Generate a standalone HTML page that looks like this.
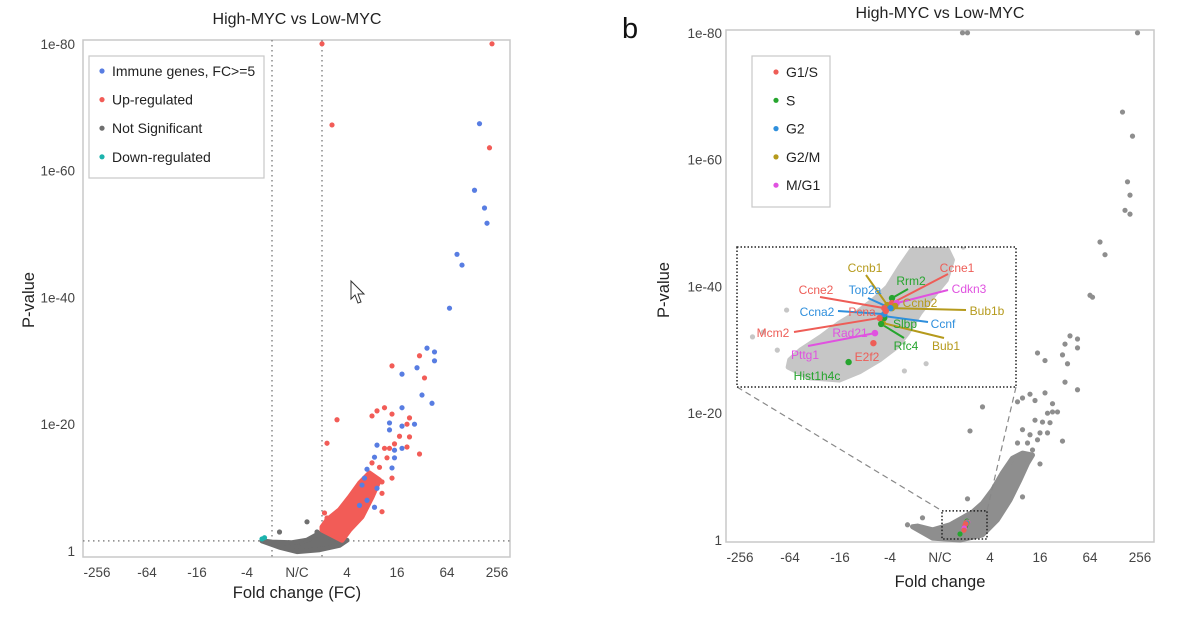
<!DOCTYPE html>
<html><head><meta charset="utf-8"><style>
html,body{margin:0;padding:0;background:#fff;}
svg{display:block;font-family:"Liberation Sans",Arial,sans-serif;}
</style></head><body>
<svg id="fig" width="1200" height="619" viewBox="0 0 1200 619" xmlns="http://www.w3.org/2000/svg"></svg>
<script>
// ---- data (x = log2 fold change, y = -log10 p) ----
const xTickLabels = ["-256","-64","-16","-4","N/C","4","16","64","256"];
const yTickLabels = ["1","1e-20","1e-40","1e-60","1e-80"];
const yTickValues = [0,20,40,60,80];
const leftRed = [[1.0,80],[7.8,80],[1.4,67.2],[7.7,63.6],[4.9,30.8],[3.8,29.2],[5.1,27.3],[3.5,22.6],[3.2,22.1],[3.0,21.3],[3.8,21.6],[1.6,20.7],[4.5,21.0],[4.4,20.0],[4.1,18.1],[4.5,18.0],[1.2,17.0],[3.9,16.9],[4.4,16.4],[3.5,16.2],[3.7,16.2],[4.9,15.3],[3.6,14.7],[3.0,13.9],[3.3,13.2],[3.8,11.5],[3.4,10.9],[3.4,9.1],[3.4,6.2],[1.1,6.0],[1.2,5.2]];
const leftBlue = [[7.3,67.4],[7.1,56.9],[7.5,54.1],[7.6,51.7],[6.4,46.8],[6.6,45.1],[6.1,38.3],[5.2,32.0],[5.5,31.4],[4.8,28.9],[5.5,30.0],[4.2,27.9],[5.0,24.6],[5.4,23.3],[4.2,22.6],[3.7,20.2],[4.7,20.0],[4.2,19.7],[3.7,19.1],[3.2,16.7],[3.9,15.9],[4.2,16.2],[3.1,14.8],[3.9,14.7],[3.8,13.1],[2.8,12.9],[2.7,11.5],[2.6,10.4],[3.2,9.9],[3.1,6.9],[2.8,8.0],[2.5,7.2]];
const leftGrey = [[0.4,4.6],[-0.7,3.0],[0.8,3.0],[-0.2,1.2],[0.2,1.2]];
const leftTeal = [[-1.3,2.1],[-1.4,1.9]];
const leftRedCloud = [[1.0,3.3],[1.8,1.7],[2.1,3.3],[2.6,5.4],[3.0,8.5],[3.3,11.2],[2.9,12.3],[2.5,10.7],[2.1,8.5],[1.7,6.5],[1.2,4.9],[1.0,3.8]];
const leftGreyCloud = [[-1.4,1.6],[-0.7,0.6],[0,-0.1],[0.9,0.2],[1.7,0.9],[2.0,1.7],[1.4,2.0],[0.9,2.8],[0.4,1.7],[-0.2,1.3],[-1.0,1.4]];
const rightGrey = [[0.9,80],[1.1,80],[7.9,80],[7.3,67.5],[7.7,63.7],[7.5,56.5],[7.6,54.4],[7.4,52],[7.6,51.4],[6.4,47],[6.6,45],[6.1,38.3],[6.0,38.6],[5.2,32.2],[5.5,31.7],[5.0,30.9],[3.9,29.5],[4.9,29.2],[5.5,30.3],[4.2,28.3],[5.1,27.8],[5.0,24.9],[5.5,23.7],[3.6,23.0],[4.2,23.2],[3.3,22.4],[3.1,21.8],[3.8,22.0],[1.7,21.0],[4.5,21.5],[4.3,20.0],[4.5,20.2],[4.7,20.2],[4.1,18.6],[4.4,18.5],[4.9,15.6],[1.2,17.2],[3.8,18.9],[3.3,17.4],[3.6,16.6],[3.9,15.8],[4.0,16.9],[3.1,15.3],[3.5,15.3],[3.7,14.2],[4.3,16.9],[3.4,13.1],[4.0,12.0],[3.3,6.8],[1.1,6.5],[-0.7,3.5],[-1.3,2.4]];
const rightCloud = [[-1.1,2.1],[-0.3,0.3],[0.8,0],[1.7,0.8],[2.3,3.2],[2.8,6.3],[3.2,9.5],[3.5,12.1],[3.7,13.4],[3.3,13.7],[2.9,12.9],[2.5,10.6],[2.1,7.9],[1.7,5.8],[1.3,4.4],[0.9,3.5],[0.4,2.4],[-0.3,1.6],[-0.9,2.2]];
const insetCloud = [[0.41,0.79],[0.55,0.45],[0.74,0.38],[0.87,0.64],[1.00,1.02],[1.11,1.43],[1.18,1.87],[1.26,2.51],[1.34,3.01],[1.43,3.55],[1.47,4.19],[1.43,4.6],[1.22,4.6],[1.13,3.96],[1.05,3.33],[0.96,2.92],[0.85,2.51],[0.74,2.19],[0.62,1.75],[0.49,1.33],[0.42,1.02]];
const insetExtra = [[0.40,2.60],[0.18,1.75],[0.34,1.33],[1.16,0.67],[1.54,4.6],[0.25,1.9],[1.30,0.9]];
const phases = ["G1/S","S","G2","G2/M","M/G1"];
const phaseColors = ["#ee5d57","#26a52e","#2f8fdc","#b59a1c","#e052e0"];
const geneNames = ["Rrm2","Ccnb1","Ccne1","Cdkn3","Bub1b","Ccnb2","Ccnf","Bub1","Rfc4","Slbp","Ccne2","Top2a","Ccna2","Pcna","Mcm2","Pttg1","Rad21","E2f2","Hist1h4c"];
const genePhase = [1,3,0,4,3,3,2,3,1,1,0,2,2,0,0,4,4,0,1];
const geneX = [1.08,1.05,1.08,1.11,1.08,1.10,1.03,1.02,1.01,1.03,1.03,1.07,1.03,1.04,1.00,0.97,0.97,0.96,0.80];
const geneY = [2.98,2.76,2.82,2.82,2.66,2.73,2.41,2.19,2.16,2.35,2.66,2.66,2.47,2.57,2.35,1.87,1.87,1.55,0.95];
// label layout (pixels): text x, text y, leader start x, y (null = no leader)
const geneLabelPos = [[911,285,908,289],[865,272,866,275],[957,272,948,274],[969,293,948,290],[987,315,966,310],[920,307,null,null],[943,328,928,322],[946,350,944,338],[906,350,904,338],[905,328,null,null],[816,294,820,297],[865,294,868,298],[817,316,838,311],[862,316,null,null],[773,337,794,332],[805,359,808,346],[850,337,null,null],[867,361,null,null],[817,380,null,null]];

const NS="http://www.w3.org/2000/svg";
const svg=document.getElementById('fig');
function mk(tag,attrs,parent){const e=document.createElementNS(NS,tag);for(const k in attrs)e.setAttribute(k,attrs[k]);(parent||svg).appendChild(e);return e;}
function txt(s,attrs,parent){const e=mk('text',attrs,parent);e.textContent=s;return e;}

function panel(p){
  const sx=l=>p.x0+25*l, sy=m=>p.y0-6.34*m;
  const g=mk('g',{});
  
  
  const fr=mk('rect',{x:p.fx,y:p.fy,width:p.fw,height:p.fh,fill:'none',stroke:'#c8c8c8','stroke-width':1.5},g);
  
  
  const t=txt('High-MYC vs Low-MYC',{x:p.x0,y:p.ty,'text-anchor':'middle','font-size':16,fill:'#222'},g);
  
  
  xTickLabels.forEach((s,i)=>{const e=txt(s,{x:sx((i-4)*2),y:p.xly,'text-anchor':'middle','font-size':13.5,fill:'#444'},g);
    
    });
  yTickLabels.forEach((s,i)=>{const e=txt(s,{x:p.ylx,y:sy(yTickValues[i])+5,'text-anchor':'end','font-size':13.5,fill:'#444'},g);
    
    });
  const xt=txt(p.xtitle,{x:p.x0,y:p.xty,'text-anchor':'middle','font-size':16.5,fill:'#222'},g);
  
  
  const yt=txt('P-value',{x:0,y:0,'text-anchor':'middle','font-size':16.5,fill:'#222',transform:`translate(${p.ytx},${p.yty}) rotate(-90)`},g);
  
  
  return {g,sx,sy};
}
function cloud(g,pts,sx,sy,col,name){
  const e=mk('polygon',{points:pts.map(d=>sx(d[0])+','+sy(d[1])).join(' '),fill:col,stroke:col,'stroke-width':5,'stroke-linejoin':'round'},g);
  
  
}
function dots(g,pts,sx,sy,col,name,r){
  pts.forEach(d=>{const c=mk('circle',{cx:sx(d[0]),cy:sy(d[1]),r:r||2.6,fill:col},g);
    
    });
}

// ---- left panel ----
const L=panel({name:'left-volcano-plot',x0:297,y0:551,fx:83,fy:40,fw:427,fh:517,ty:24,xly:577,ylx:75,xtitle:'Fold change (FC)',xty:598,ytx:34,yty:300});
[-1,1].forEach(v=>{const e=mk('line',{x1:L.sx(v),x2:L.sx(v),y1:40,y2:557,stroke:'#888','stroke-dasharray':'1.5,3.5','stroke-width':1.5},L.g);
  
  });
{const e=mk('line',{x1:83,x2:510,y1:L.sy(1.6),y2:L.sy(1.6),stroke:'#888','stroke-dasharray':'1.5,3.5','stroke-width':1.5},L.g);
  
  }
cloud(L.g,leftGreyCloud,L.sx,L.sy,'#6f6f6f','not-significant-cloud');
cloud(L.g,leftRedCloud,L.sx,L.sy,'#f25c57','up-regulated-cloud');
dots(L.g,leftGrey,L.sx,L.sy,'#6f6f6f','not-significant-point');
dots(L.g,leftTeal,L.sx,L.sy,'#1cb3ad','down-regulated-point');
dots(L.g,leftRed,L.sx,L.sy,'#f25c57','up-regulated-point');
dots(L.g,leftBlue,L.sx,L.sy,'#587de2','immune-gene-point');
{const lg=mk('g',{},L.g);
 
 
 mk('rect',{x:89,y:56,width:175,height:122,fill:'#fff',stroke:'#c8c8c8','stroke-width':1.2},lg);
 const items=[['Immune genes, FC>=5','#587de2'],['Up-regulated','#f25c57'],['Not Significant','#6f6f6f'],['Down-regulated','#1cb3ad']];
 items.forEach((it,i)=>{const y=71+i*28.6;
   const c=mk('circle',{cx:102,cy:y,r:2.6,fill:it[1]},lg);
   
   
   const t=txt(it[0],{x:112,y:y+5,'font-size':14,fill:'#222'},lg);
   
   });}
// cursor
{const e=mk('path',{d:'M351,281 L351,299 L355,295 L358,303 L361,302 L358,294 L364,294 Z',fill:'#fff',stroke:'#333','stroke-width':1},L.g);
 
 }

// ---- right panel ----
{const b=txt('b',{x:622,y:38,'font-size':29,fill:'#111'});
 
 }
const R=panel({name:'right-volcano-plot',x0:940,y0:540,fx:726,fy:30,fw:428,fh:512,ty:18,xly:562,ylx:722,xtitle:'Fold change',xty:587,ytx:669,yty:290});
cloud(R.g,rightCloud,R.sx,R.sy,'#8e8e8e','gene-cloud');
dots(R.g,rightGrey,R.sx,R.sy,'#8e8e8e','gene-point');
geneNames.forEach((n,i)=>{const c=mk('circle',{cx:R.sx(geneX[i]),cy:R.sy(geneY[i]),r:2.6,fill:phaseColors[genePhase[i]]},R.g);
  
  });
// zoom box + connectors
const zb={l0:0.08,l1:1.88,m0:0.16,m1:4.6};
{const bx=R.sx(zb.l0),by=R.sy(zb.m1),bw=R.sx(zb.l1)-bx,bh=R.sy(zb.m0)-by;
 const e=mk('rect',{x:bx,y:by,width:bw,height:bh,fill:'none',stroke:'#222','stroke-dasharray':'1.5,2','stroke-width':1.5},R.g);
 
 
 const IX0=737,IY0=247,IW=279,IH=140;
 [[IX0,IY0+IH,bx,by],[IX0+IW,IY0+IH,bx+bw,by]].forEach(s=>{const l=mk('line',{x1:s[0],y1:s[1],x2:s[2],y2:s[3],stroke:'#888','stroke-dasharray':'6,4','stroke-width':1.2},R.g);
   
   });
 const ig=mk('g',{},R.g);
 
 
 mk('rect',{x:IX0,y:IY0,width:IW,height:IH,fill:'#fff',stroke:'none'},ig);
 const cp=mk('clipPath',{id:'insetclip'},ig);mk('rect',{x:IX0,y:IY0,width:IW,height:IH},cp);
 const ic=mk('g',{'clip-path':'url(#insetclip)'},ig);
 const ix=l=>IX0+(l-zb.l0)/(zb.l1-zb.l0)*IW, iy=m=>IY0+IH-(m-zb.m0)/(zb.m1-zb.m0)*IH;
 cloud(ic,insetCloud,ix,iy,'#c6c6c6','inset-gene-cloud');
 dots(ic,insetExtra,ix,iy,'#c6c6c6','inset-gene-point');
 geneNames.forEach((n,i)=>{const lp=geneLabelPos[i],col=phaseColors[genePhase[i]];
   if(lp[2]!==null){const l=mk('line',{x1:lp[2],y1:lp[3],x2:ix(geneX[i]),y2:iy(geneY[i]),stroke:col,'stroke-width':2},ig);
     
     }});
 geneNames.forEach((n,i)=>{const c=mk('circle',{cx:ix(geneX[i]),cy:iy(geneY[i]),r:3.2,fill:phaseColors[genePhase[i]]},ig);
   
   });
 geneNames.forEach((n,i)=>{const lp=geneLabelPos[i];
   const t=txt(n,{x:lp[0],y:lp[1],'text-anchor':'middle','font-size':12,fill:phaseColors[genePhase[i]]},ig);
   
   });
 const br=mk('rect',{x:IX0,y:IY0,width:IW,height:IH,fill:'none',stroke:'#222','stroke-dasharray':'1.5,2','stroke-width':1.5},ig);
 
 }
{const lg=mk('g',{},R.g);
 
 
 mk('rect',{x:752,y:56,width:78,height:151,fill:'#fff',stroke:'#c8c8c8','stroke-width':1.2},lg);
 phases.forEach((p,i)=>{const y=72+i*28.3;
   const c=mk('circle',{cx:776,cy:y,r:2.6,fill:phaseColors[i]},lg);
   
   
   const t=txt(p,{x:786,y:y+5,'font-size':14,fill:'#222'},lg);
   
   });}
</script>
</body></html>
